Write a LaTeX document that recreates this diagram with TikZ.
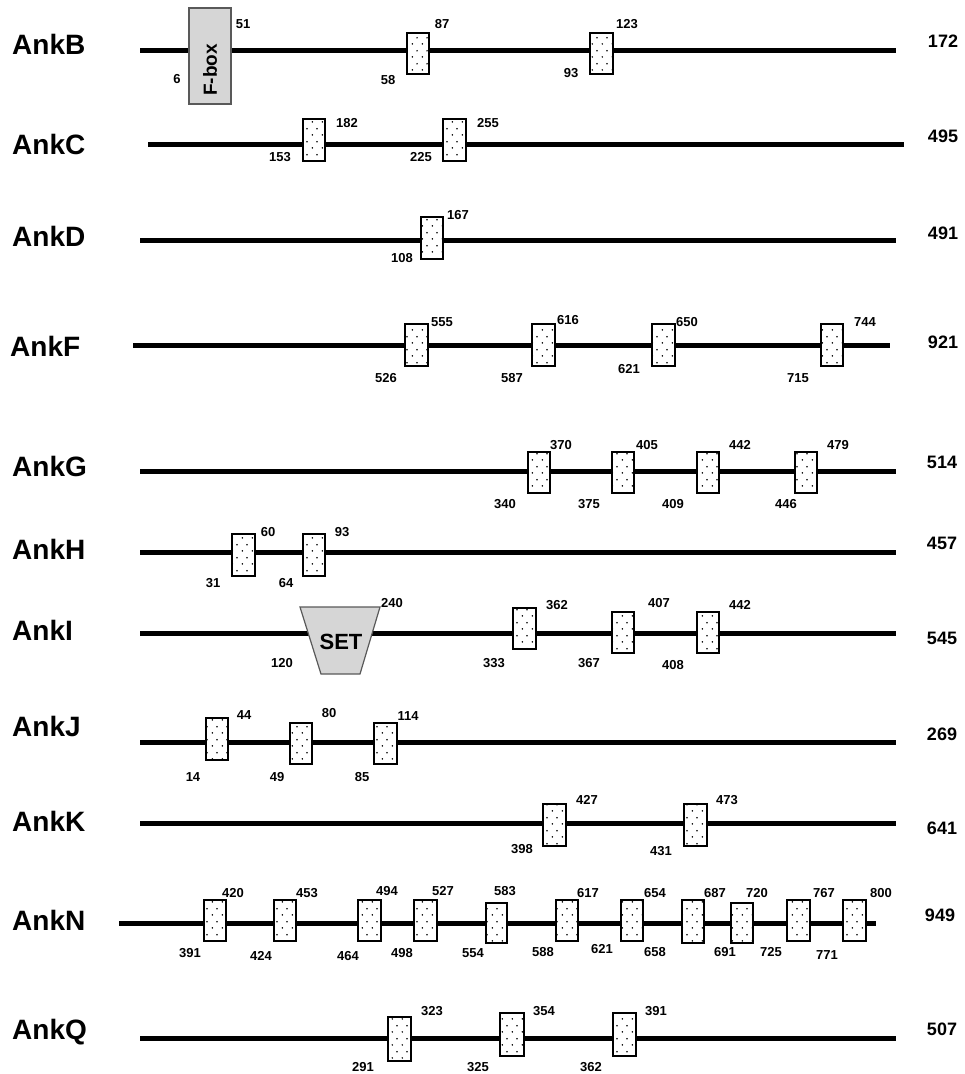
\documentclass[tikz,border=0pt]{standalone}
\usepackage{fontspec}
\setmainfont{Liberation Sans}
\usetikzlibrary{patterns}

\pgfdeclarepatternformonly{sparse dots}{\pgfpoint{0pt}{0pt}}{\pgfpoint{10pt}{13pt}}{\pgfpoint{10pt}{13pt}}{%
  \pgfpathcircle{\pgfpoint{2.5pt}{3.25pt}}{0.9pt}%
  \pgfpathcircle{\pgfpoint{7.5pt}{9.75pt}}{0.9pt}%
  \pgfusepath{fill}}

\tikzstyle{backbone}=[draw=black,line width=5pt]
\tikzstyle{ankrep}=[draw=black,line width=1.3pt,fill=white,postaction={pattern=sparse dots}]
\tikzstyle{grey}=[draw=black!65,line width=1.2pt,fill=black!16]
\tikzstyle{num}=[font=\fontsize{13}{14}\selectfont\bfseries,inner sep=0pt]
\tikzstyle{len}=[font=\fontsize{18}{20}\selectfont\bfseries,inner sep=0pt]
\tikzstyle{gene}=[font=\fontsize{28}{30}\selectfont\bfseries,inner sep=0pt,anchor=west]

\begin{document}
\begin{tikzpicture}[x=1pt,y=-1pt]

   \useasboundingbox (0,0) rectangle (965,1074);

   % AnkB

   \draw (12,44) node[gene] (AnkB) {AnkB};
   \draw[backbone] (140,50) -- (896,50);
   \draw[grey] (189,8) rectangle (231,104);
   \draw (210,70) node[rotate=90,font=\fontsize{19}{20}\selectfont\bfseries] (fbox) {F-box};
   \draw[ankrep] (407,33) rectangle (429,74);
   \draw[ankrep] (590,33) rectangle (613,74);
   \draw (177,79) node[num] (B6) {6};
   \draw (243,24) node[num] (B51) {51};
   \draw (388,80) node[num] (B58) {58};
   \draw (442,24) node[num] (B87) {87};
   \draw (571,73) node[num] (B93) {93};
   \draw (627,24) node[num] (B123) {123};
   \draw (943,41) node[len] (Blen) {172};

   % AnkC

   \draw (12,144) node[gene] (AnkC) {AnkC};
   \draw[backbone] (148,144) -- (904,144);
   \draw[ankrep] (303,119) rectangle (325,161);
   \draw[ankrep] (443,119) rectangle (466,161);
   \draw (280,157) node[num] (C153) {153};
   \draw (347,123) node[num] (C182) {182};
   \draw (421,157) node[num] (C225) {225};
   \draw (488,123) node[num] (C255) {255};
   \draw (943,136) node[len] (Clen) {495};

   % AnkD

   \draw (12,236) node[gene] (AnkD) {AnkD};
   \draw[backbone] (140,240) -- (896,240);
   \draw[ankrep] (421,217) rectangle (443,259);
   \draw (402,258) node[num] (D108) {108};
   \draw (458,215) node[num] (D167) {167};
   \draw (943,233) node[len] (Dlen) {491};

   % AnkF

   \draw (10,346) node[gene] (AnkF) {AnkF};
   \draw[backbone] (133,345) -- (890,345);
   \draw[ankrep] (405,324) rectangle (428,366);
   \draw[ankrep] (532,324) rectangle (555,366);
   \draw[ankrep] (652,324) rectangle (675,366);
   \draw[ankrep] (821,324) rectangle (843,366);
   \draw (386,378) node[num] (F526) {526};
   \draw (442,322) node[num] (F555) {555};
   \draw (512,378) node[num] (F587) {587};
   \draw (568,320) node[num] (F616) {616};
   \draw (629,369) node[num] (F621) {621};
   \draw (687,322) node[num] (F650) {650};
   \draw (798,378) node[num] (F715) {715};
   \draw (865,322) node[num] (F744) {744};
   \draw (943,342) node[len] (Flen) {921};

   % AnkG

   \draw (12,466) node[gene] (AnkG) {AnkG};
   \draw[backbone] (140,471) -- (896,471);
   \draw[ankrep] (528,452) rectangle (550,493);
   \draw[ankrep] (612,452) rectangle (634,493);
   \draw[ankrep] (697,452) rectangle (719,493);
   \draw[ankrep] (795,452) rectangle (817,493);
   \draw (505,504) node[num] (G340) {340};
   \draw (561,445) node[num] (G370) {370};
   \draw (589,504) node[num] (G375) {375};
   \draw (647,445) node[num] (G405) {405};
   \draw (673,504) node[num] (G409) {409};
   \draw (740,445) node[num] (G442) {442};
   \draw (786,504) node[num] (G446) {446};
   \draw (838,445) node[num] (G479) {479};
   \draw (942,462) node[len] (Glen) {514};

   % AnkH

   \draw (12,549) node[gene] (AnkH) {AnkH};
   \draw[backbone] (140,552) -- (896,552);
   \draw[ankrep] (232,534) rectangle (255,576);
   \draw[ankrep] (303,534) rectangle (325,576);
   \draw (213,583) node[num] (H31) {31};
   \draw (268,532) node[num] (H60) {60};
   \draw (286,583) node[num] (H64) {64};
   \draw (342,532) node[num] (H93) {93};
   \draw (942,543) node[len] (Hlen) {457};

   % AnkI

   \draw (12,630) node[gene] (AnkI) {AnkI};
   \draw[backbone] (140,633) -- (896,633);
   \draw[grey] (300,607) -- (380,607) -- (360,674) -- (321,674) -- cycle;
   \draw (341,642) node[font=\fontsize{22}{24}\selectfont\bfseries] (set) {SET};
   \draw[ankrep] (513,608) rectangle (536,649);
   \draw[ankrep] (612,612) rectangle (634,653);
   \draw[ankrep] (697,612) rectangle (719,653);
   \draw (282,663) node[num] (I120) {120};
   \draw (392,603) node[num] (I240) {240};
   \draw (494,663) node[num] (I333) {333};
   \draw (557,605) node[num] (I362) {362};
   \draw (589,663) node[num] (I367) {367};
   \draw (659,603) node[num] (I407) {407};
   \draw (673,665) node[num] (I408) {408};
   \draw (740,605) node[num] (I442) {442};
   \draw (942,638) node[len] (Ilen) {545};

   % AnkJ

   \draw (12,726) node[gene] (AnkJ) {AnkJ};
   \draw[backbone] (140,742) -- (896,742);
   \draw[ankrep] (206,718) rectangle (228,760);
   \draw[ankrep] (290,723) rectangle (312,764);
   \draw[ankrep] (374,723) rectangle (397,764);
   \draw (193,777) node[num] (J14) {14};
   \draw (244,715) node[num] (J44) {44};
   \draw (277,777) node[num] (J49) {49};
   \draw (329,713) node[num] (J80) {80};
   \draw (362,777) node[num] (J85) {85};
   \draw (408,716) node[num] (J114) {114};
   \draw (942,734) node[len] (Jlen) {269};

   % AnkK

   \draw (12,821) node[gene] (AnkK) {AnkK};
   \draw[backbone] (140,823) -- (896,823);
   \draw[ankrep] (543,804) rectangle (566,846);
   \draw[ankrep] (684,804) rectangle (707,846);
   \draw (522,849) node[num] (K398) {398};
   \draw (587,800) node[num] (K427) {427};
   \draw (661,851) node[num] (K431) {431};
   \draw (727,800) node[num] (K473) {473};
   \draw (942,828) node[len] (Klen) {641};

   % AnkN

   \draw (12,920) node[gene] (AnkN) {AnkN};
   \draw[backbone] (119,923) -- (876,923);
   \draw[ankrep] (204,900) rectangle (226,941);
   \draw[ankrep] (274,900) rectangle (296,941);
   \draw[ankrep] (358,900) rectangle (381,941);
   \draw[ankrep] (414,900) rectangle (437,941);
   \draw[ankrep] (486,903) rectangle (507,943);
   \draw[ankrep] (556,900) rectangle (578,941);
   \draw[ankrep] (621,900) rectangle (643,941);
   \draw[ankrep] (682,900) rectangle (704,943);
   \draw[ankrep] (731,903) rectangle (753,943);
   \draw[ankrep] (787,900) rectangle (810,941);
   \draw[ankrep] (843,900) rectangle (866,941);
   \draw (190,953) node[num] (N391) {391};
   \draw (233,893) node[num] (N420) {420};
   \draw (261,956) node[num] (N424) {424};
   \draw (307,893) node[num] (N453) {453};
   \draw (348,956) node[num] (N464) {464};
   \draw (387,891) node[num] (N494) {494};
   \draw (402,953) node[num] (N498) {498};
   \draw (443,891) node[num] (N527) {527};
   \draw (473,953) node[num] (N554) {554};
   \draw (505,891) node[num] (N583) {583};
   \draw (543,952) node[num] (N588) {588};
   \draw (588,893) node[num] (N617) {617};
   \draw (602,949) node[num] (N621) {621};
   \draw (655,893) node[num] (N654) {654};
   \draw (655,952) node[num] (N658) {658};
   \draw (715,893) node[num] (N687) {687};
   \draw (725,952) node[num] (N691) {691};
   \draw (757,893) node[num] (N720) {720};
   \draw (771,952) node[num] (N725) {725};
   \draw (824,893) node[num] (N767) {767};
   \draw (827,955) node[num] (N771) {771};
   \draw (881,893) node[num] (N800) {800};
   \draw (940,915) node[len] (Nlen) {949};

   % AnkQ

   \draw (12,1032) node[gene] (AnkQ) {AnkQ};
   \draw[backbone] (140,1038) -- (896,1038);
   \draw[ankrep] (388,1017) rectangle (411,1061);
   \draw[ankrep] (500,1013) rectangle (524,1056);
   \draw[ankrep] (613,1013) rectangle (636,1056);
   \draw (363,1067) node[num] (Q291) {291};
   \draw (432,1011) node[num] (Q323) {323};
   \draw (478,1067) node[num] (Q325) {325};
   \draw (544,1011) node[num] (Q354) {354};
   \draw (591,1067) node[num] (Q362) {362};
   \draw (656,1011) node[num] (Q391) {391};
   \draw (942,1029) node[len] (Qlen) {507};

\end{tikzpicture}
\end{document}
